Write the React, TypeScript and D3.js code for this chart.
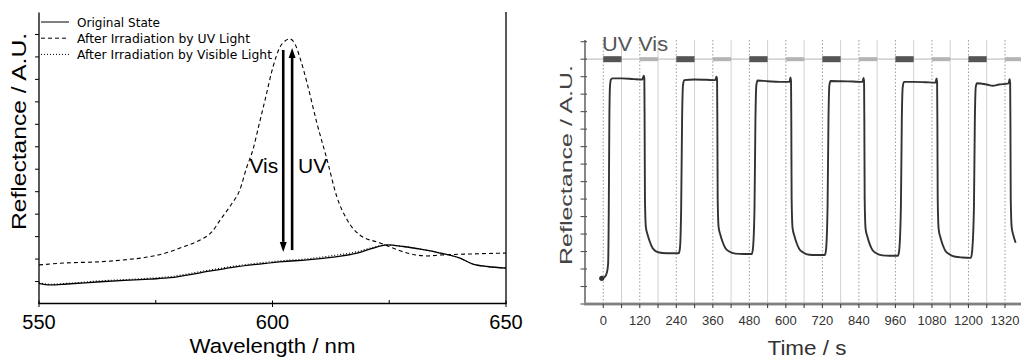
import React from 'react';
import * as d3 from 'd3';

// ---------- Left panel: reflectance spectra ----------
const SPEC_WL = [550, 552.4, 556, 563.1, 573.8, 578.1, 584.5, 591.5, 597.3, 602.2, 607.4, 613, 618.1, 621, 624.5, 628, 632, 635.9, 640, 642.9, 646, 650];
const ORIGINAL = [0.92, 0.85, 0.89, 0.99, 1.11, 1.17, 1.39, 1.63, 1.78, 1.89, 1.96, 2.09, 2.26, 2.45, 2.63, 2.56, 2.43, 2.27, 2.05, 1.78, 1.67, 1.6];
const VISIBLE = [0.94, 0.88, 0.92, 1.03, 1.15, 1.22, 1.44, 1.68, 1.83, 1.93, 2.01, 2.16, 2.33, 2.49, 2.63, 2.56, 2.43, 2.27, 2.05, 1.78, 1.67, 1.6];
const UV_WL = [550, 556, 563.1, 568, 573.8, 578.1, 580.8, 584.5, 587, 588.8, 591.1, 593, 594.5, 595.8, 597.1, 598.4, 600.1, 601.6, 602.7, 603.7, 604.8, 605.9, 607.4, 609.5, 611.7, 613.8, 616, 618.7, 623, 625.8, 628.8, 633.1, 635.9, 642.9, 650];
const UV_IRR = [1.74, 1.83, 1.88, 1.96, 2.11, 2.33, 2.54, 2.85, 3.21, 3.74, 4.41, 5.08, 6.1, 6.86, 7.97, 9.08, 10.55, 11.44, 11.71, 11.8, 11.58, 10.95, 9.84, 8.06, 6.41, 4.76, 3.74, 3.07, 2.72, 2.49, 2.27, 2.14, 2.18, 2.23, 2.27];
const LEFT_X_TICKS = [550, 600, 650];
const LEFT_X_MINOR = [575, 625];
const LEFT_Y_TICKS = [1, 2, 3, 4, 5, 6, 7, 8, 9, 10, 11, 12];
const LEGEND = ['Original State', 'After Irradiation by UV Light', 'After Irradiation by Visible Light'];
const ARROW_VIS = { wl: 602.3, from: 11.31, to: 2.32, label: 'Vis' };
const ARROW_UV = { wl: 604.2, from: 2.4, to: 11.4, label: 'UV' };
const ARROW_LABEL_LEVEL = 5.83;

// ---------- Right panel: switching cycles ----------
const TIME_S = [
  -5, 5, 12, 16, 18, 20, 22, 25, 30, 60, 100, 128, 133, 135, 136, 137, 140, 146, 153, 162, 175, 195, 220, 248,
  252, 256, 259, 262, 266, 300, 340, 368, 372, 374, 375, 376, 379, 385, 392, 401, 414, 434, 460, 488,
  492, 497, 500, 503, 507, 540, 580, 612, 615, 617, 618, 619, 622, 628, 635, 644, 657, 677, 700, 728,
  732, 737, 740, 743, 747, 780, 820, 852, 855, 857, 858, 859, 862, 868, 875, 884, 897, 917, 940, 968,
  972, 978, 981, 984, 988, 1020, 1060, 1092, 1095, 1097, 1098, 1099, 1102, 1108, 1115, 1124, 1137, 1157, 1180, 1208,
  1212, 1218, 1221, 1224, 1228, 1260, 1280, 1300, 1332, 1335, 1337, 1338, 1339, 1342, 1348, 1355,
];
const REFLECT = [
  1.47, 1.55, 1.8, 2.3, 5.0, 10.5, 12.4, 12.82, 12.9, 12.9, 12.86, 12.84, 13.05, 12.9, 10.0, 6.0, 4.4, 3.95, 3.56, 3.2, 3.0, 2.92, 2.9, 2.9,
  3.2, 5.5, 10.5, 12.5, 12.8, 12.84, 12.82, 12.8, 13.0, 12.85, 10.0, 6.0, 4.4, 3.95, 3.56, 3.2, 3.0, 2.88, 2.86, 2.86,
  3.2, 5.5, 10.5, 12.5, 12.78, 12.74, 12.7, 12.7, 12.95, 12.75, 10.0, 6.0, 4.35, 3.9, 3.5, 3.15, 2.95, 2.82, 2.8, 2.8,
  3.1, 5.5, 10.5, 12.5, 12.75, 12.74, 12.72, 12.7, 12.92, 12.72, 10.0, 6.0, 4.3, 3.85, 3.45, 3.1, 2.9, 2.78, 2.76, 2.76,
  3.0, 5.5, 10.5, 12.4, 12.7, 12.7, 12.68, 12.66, 12.9, 12.7, 10.0, 6.0, 4.3, 3.8, 3.4, 3.05, 2.85, 2.7, 2.66, 2.64,
  3.0, 5.5, 10.5, 12.4, 12.62, 12.55, 12.48, 12.55, 12.62, 12.85, 12.65, 10.0, 6.0, 4.4, 3.9, 3.5,
];
const TIME_LABELS = [0, 120, 240, 360, 480, 600, 720, 840, 960, 1080, 1200, 1320];
const TIME_MINOR = [60, 180, 300, 420, 540, 660, 780, 900, 1020, 1140, 1260, 1380];
const RIGHT_Y_TICKS = [0, 1, 2, 3, 4, 5, 6, 7, 8, 9, 10, 11, 12, 13, 14, 15];
const UV_ON = [0, 240, 480, 720, 960, 1200];
const VIS_ON = [120, 360, 600, 840, 1080, 1320];
const PULSE_S = 60;
const BAR_LEVEL = 14;

const FONT = '"Liberation Sans", Arial, sans-serif';

export default function App() {
  // left scales
  const lx = d3.scaleLinear().domain([550, 650]).range([39, 506]);
  const ly = d3.scaleLinear().domain([0, 13]).range([304, 12]);
  const lineL = (xs: number[], ys: number[]) =>
    d3.line<number>().x((_, i) => lx(xs[i])).y((d) => ly(d)).curve(d3.curveMonotoneX)(ys) || '';

  // right scales
  const rx = d3.scaleLinear().domain([-60, 1400]).range([585, 603.3 + 0.3043 * 1400]);
  const ry = d3.scaleLinear().domain([0, 15]).range([304, 41.7]);
  const rLine =
    d3.line<number>().x((_, i) => rx(TIME_S[i])).y((d) => ry(d)).curve(d3.curveMonotoneX)(REFLECT) || '';

  const arrow = (a: { wl: number; from: number; to: number }) => {
    const x = lx(a.wl);
    const y0 = ly(a.from);
    const y1 = ly(a.to);
    const dir = y1 > y0 ? 1 : -1;
    const base = y1 - dir * 10;
    return (
      <g>
        <line x1={x} y1={y0} x2={x} y2={base} stroke="#000" strokeWidth={2.6} />
        <path d={`M${x - 3.5},${base} L${x + 3.5},${base} L${x},${y1} Z`} fill="#000" />
      </g>
    );
  };

  const legendDash = [null, '4,3', '1,2'];

  return (
    <svg width={1021} height={358} style={{ position: 'absolute', left: 0, top: 0, background: '#fff' }}>
      <defs>
        <filter id="soft" x="-5%" y="-5%" width="110%" height="110%">
          <feGaussianBlur stdDeviation="0.45" />
        </filter>
        <clipPath id="rclip">
          <rect x={580} y={0} width={441} height={358} />
        </clipPath>
      </defs>

      {/* ================= LEFT PANEL ================= */}
      <g fontFamily={FONT}>
        {/* axes frame */}
        <line x1={39} y1={12.5} x2={39} y2={304} stroke="#000" strokeWidth={1.3} />
        <line x1={506} y1={12} x2={506} y2={304} stroke="#000" strokeWidth={1.3} />
        <line x1={38.5} y1={303.5} x2={506.5} y2={303.5} stroke="#000" strokeWidth={1.5} />
        {LEFT_Y_TICKS.map((t) => (
          <line key={t} x1={35} x2={39} y1={ly(t)} y2={ly(t)} stroke="#000" strokeWidth={1} />
        ))}
        {LEFT_X_TICKS.map((t) => (
          <line key={t} x1={lx(t)} x2={lx(t)} y1={300.5} y2={307} stroke="#000" strokeWidth={1} />
        ))}
        {LEFT_X_MINOR.map((t) => (
          <line key={t} x1={lx(t)} x2={lx(t)} y1={300} y2={303.5} stroke="#000" strokeWidth={1} />
        ))}
        {LEFT_X_TICKS.map((t) => (
          <text key={t} x={lx(t)} y={329} fontSize={20} textAnchor="middle" fill="#000">
            {t}
          </text>
        ))}
        <text x={272.5} y={353} fontSize={20.5} textAnchor="middle" textLength={166} lengthAdjust="spacingAndGlyphs" fill="#000">
          Wavelength / nm
        </text>
        <text
          transform="translate(26,131.5) rotate(-90)"
          fontSize={20}
          textAnchor="middle"
          textLength={197}
          lengthAdjust="spacingAndGlyphs"
          fill="#000"
        >
          Reflectance / A.U.
        </text>

        {/* curves */}
        <path d={lineL(UV_WL, UV_IRR)} fill="none" stroke="#000" strokeWidth={1.1} strokeDasharray="4,3" />
        <path d={lineL(SPEC_WL, VISIBLE)} fill="none" stroke="#000" strokeWidth={1.1} strokeDasharray="1,2" />
        <path d={lineL(SPEC_WL, ORIGINAL)} fill="none" stroke="#000" strokeWidth={1.3} />

        {/* arrows */}
        {arrow(ARROW_VIS)}
        {arrow(ARROW_UV)}
        <text x={lx(ARROW_VIS.wl) - 5} y={ly(ARROW_LABEL_LEVEL)} fontSize={21} textAnchor="end" fill="#000">
          {ARROW_VIS.label}
        </text>
        <text x={lx(ARROW_UV.wl) + 6} y={ly(ARROW_LABEL_LEVEL)} fontSize={21} textAnchor="start" fill="#000">
          {ARROW_UV.label}
        </text>

        {/* legend */}
        {LEGEND.map((name, i) => {
          const y = 22 + i * 16.2;
          const widths = [83, 173, 195];
          return (
            <g key={name}>
              <line
                x1={41}
                x2={69}
                y1={y}
                y2={y}
                stroke="#000"
                strokeWidth={1}
                strokeDasharray={legendDash[i] || undefined}
              />
              <text
                x={77}
                y={y + 4.6}
                fontSize={12.5}
                fontFamily='"DejaVu Sans", sans-serif'
                textLength={widths[i]}
                lengthAdjust="spacingAndGlyphs"
                fill="#000"
              >
                {name}
              </text>
            </g>
          );
        })}
      </g>

      {/* ================= RIGHT PANEL ================= */}
      <g fontFamily={FONT} clipPath="url(#rclip)">
        {/* vertical grid */}
        {TIME_LABELS.map((t) => (
          <line key={'g' + t} x1={rx(t)} x2={rx(t)} y1={40} y2={304} stroke="#9a9a9a" strokeWidth={1} strokeDasharray="1.5,2" />
        ))}
        {TIME_MINOR.map((t) => (
          <line key={'m' + t} x1={rx(t)} x2={rx(t)} y1={40} y2={304} stroke="#d0d0d0" strokeWidth={1} />
        ))}
        {/* irradiation level line */}
        <line x1={585} x2={1021} y1={ry(BAR_LEVEL)} y2={ry(BAR_LEVEL)} stroke="#c4c4c4" strokeWidth={1.2} />
        <g filter="url(#soft)">
          {UV_ON.map((t) => (
            <rect key={'u' + t} x={rx(t)} width={rx(t + PULSE_S) - rx(t)} y={ry(BAR_LEVEL) - 3} height={6} fill="#555" />
          ))}
          {VIS_ON.map((t) => (
            <rect key={'v' + t} x={rx(t)} width={rx(t + PULSE_S) - rx(t)} y={ry(BAR_LEVEL) - 2} height={4} fill="#b4b4b4" />
          ))}
          <path d={rLine} fill="none" stroke="#333" strokeWidth={1.9} />
          <circle cx={rx(TIME_S[0])} cy={ry(REFLECT[0])} r={2.6} fill="#333" />
        </g>

        {/* axes */}
        <line x1={585} x2={585} y1={40} y2={304} stroke="#555" strokeWidth={1.4} />
        {RIGHT_Y_TICKS.map((t) => (
          <line key={'y' + t} x1={580.5} x2={587} y1={ry(t)} y2={ry(t)} stroke="#555" strokeWidth={1.1} />
        ))}
        <line x1={584} x2={1021} y1={304} y2={304} stroke="#9a9a9a" strokeWidth={3} />
        <line x1={584} x2={1021} y1={304} y2={304} stroke="#666" strokeWidth={1} />
        {[...TIME_LABELS, ...TIME_MINOR].map((t) => (
          <line key={'xt' + t} x1={rx(t)} x2={rx(t)} y1={304} y2={308} stroke="#444" strokeWidth={1.1} />
        ))}
        {TIME_LABELS.map((t) => (
          <text key={'xl' + t} x={rx(t)} y={325} fontSize={13} textAnchor="middle" fill="#333">
            {t}
          </text>
        ))}
        <text x={807} y={355} fontSize={20} textAnchor="middle" textLength={79} lengthAdjust="spacingAndGlyphs" fill="#333">
          Time / s
        </text>
        <text x={602} y={51} fontSize={20} textLength={66} lengthAdjust="spacingAndGlyphs" fill="#555">
          UV Vis
        </text>
      </g>
      <text
        transform="translate(572,165) rotate(-90)"
        fontFamily={FONT}
        fontSize={17}
        textAnchor="middle"
        textLength={200}
        lengthAdjust="spacingAndGlyphs"
        fill="#444"
      >
        Reflectance / A.U.
      </text>
    </svg>
  );
}
